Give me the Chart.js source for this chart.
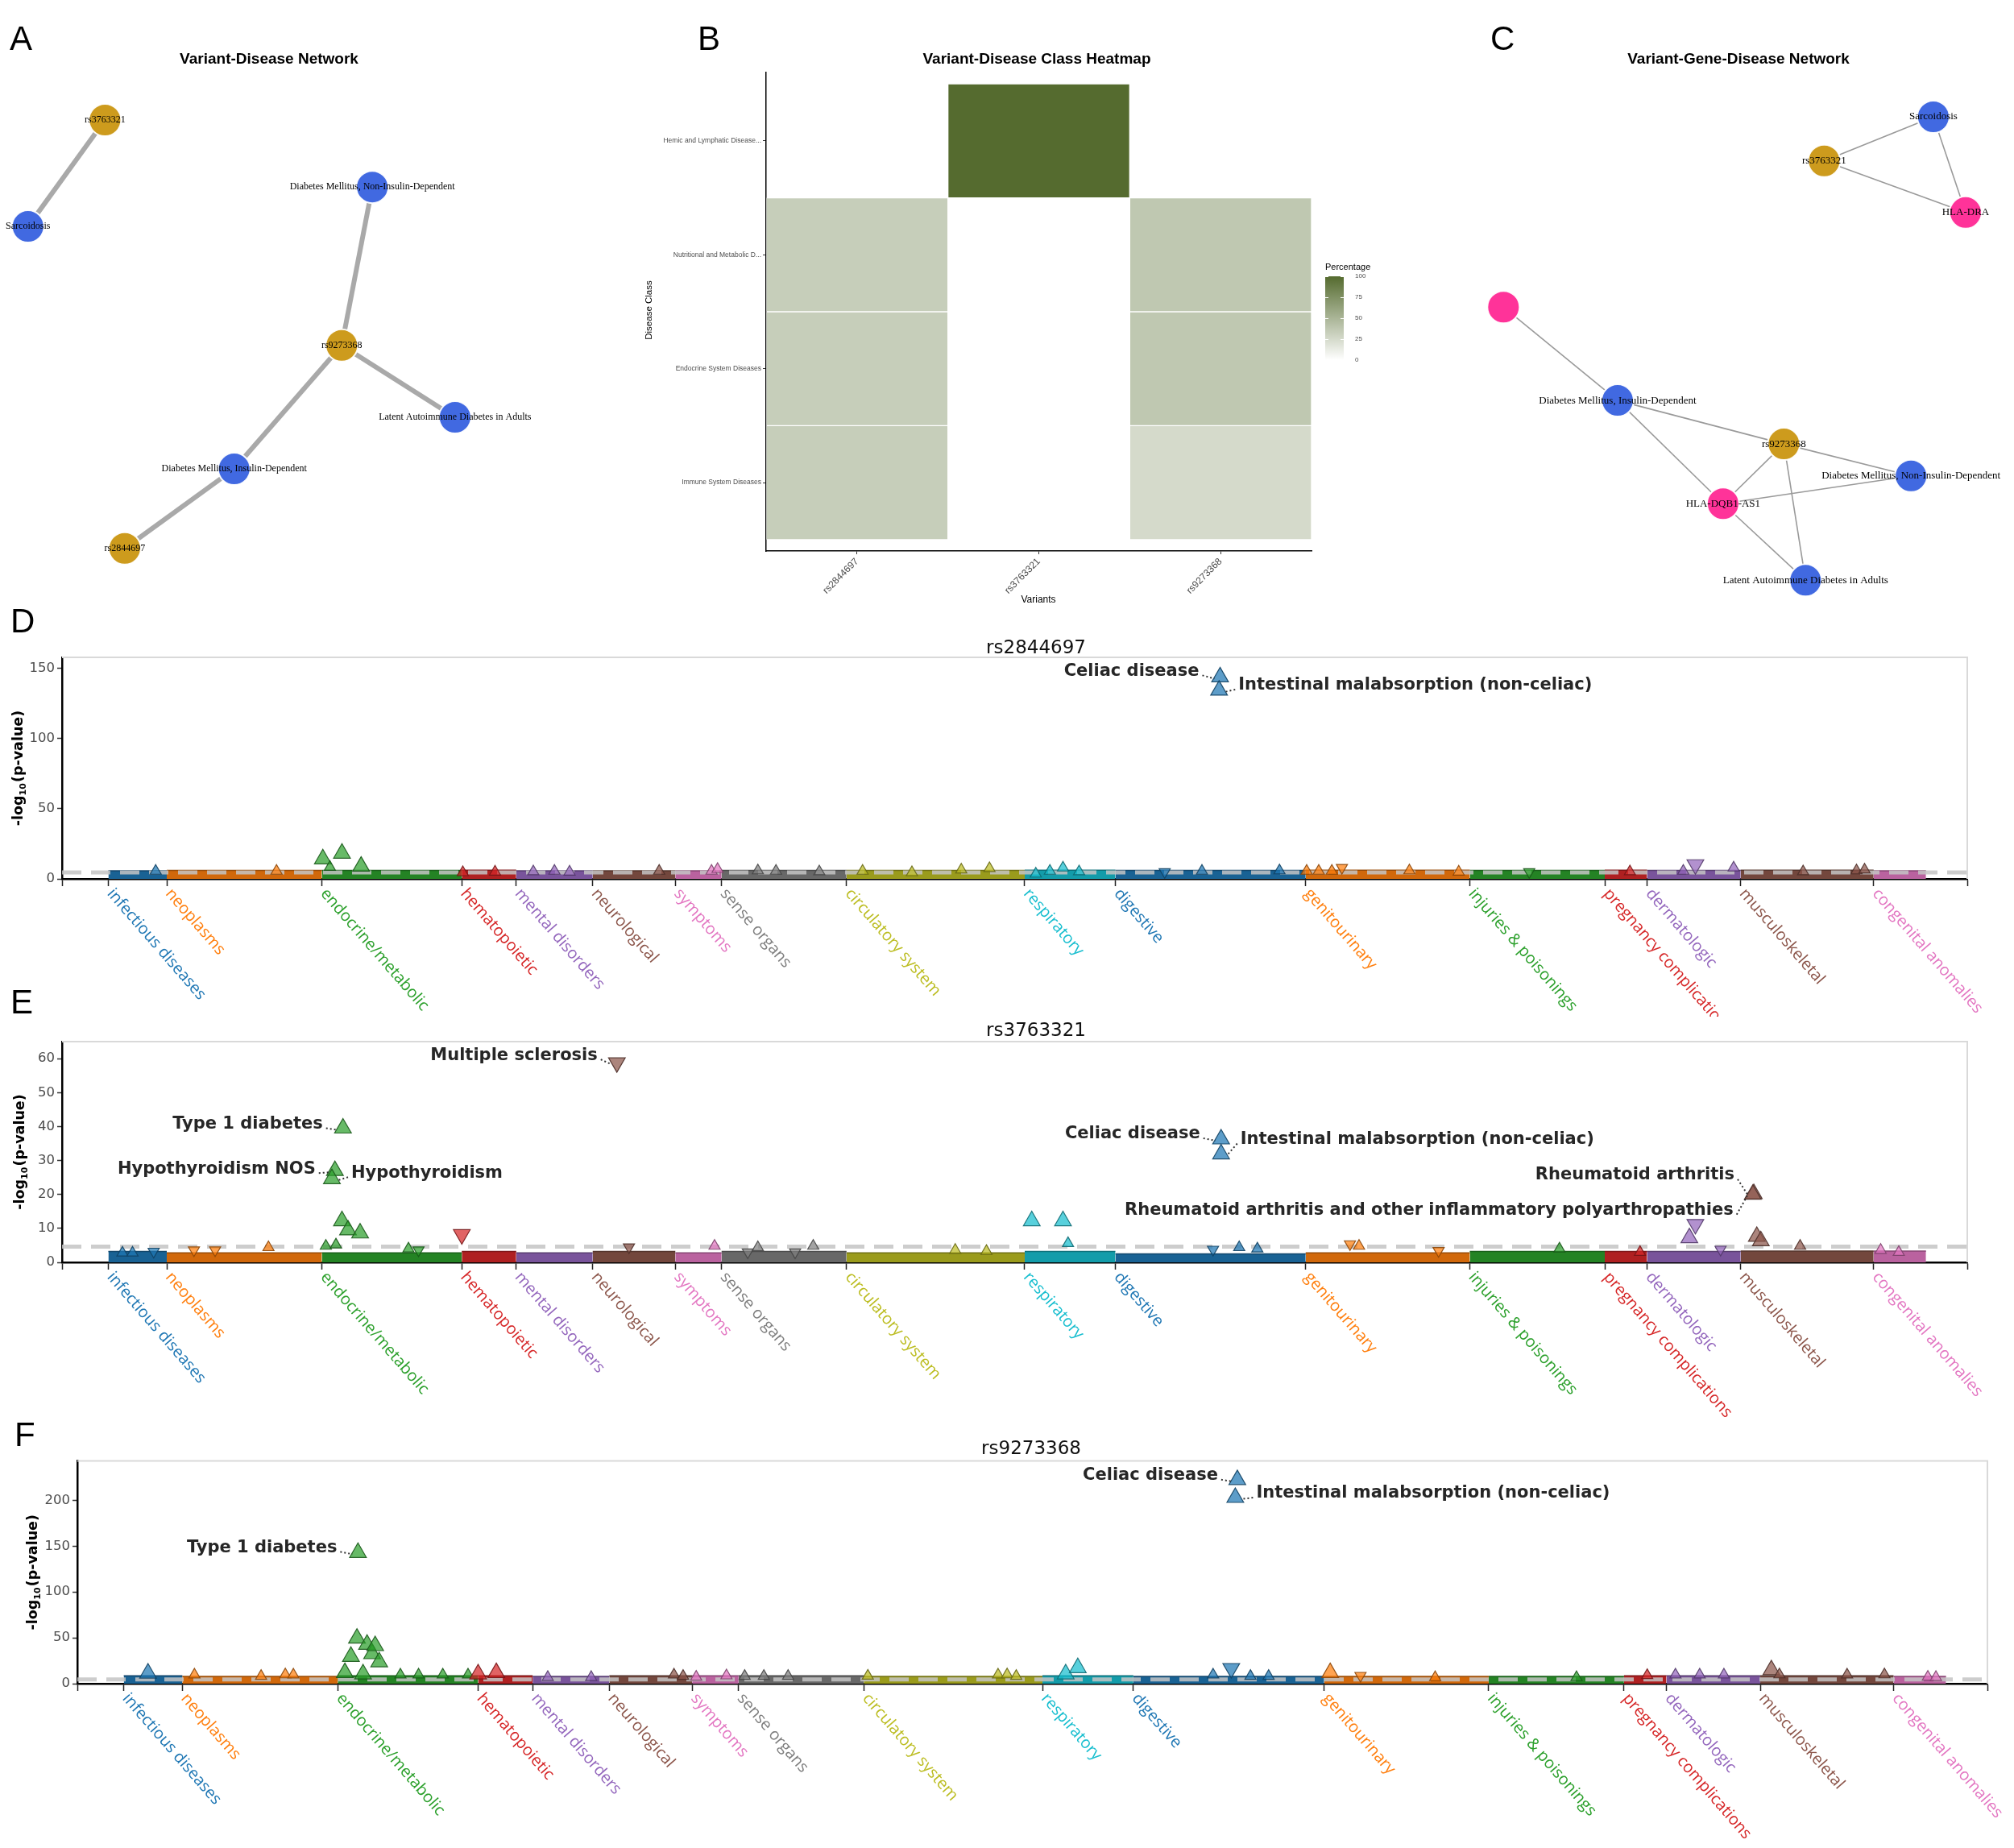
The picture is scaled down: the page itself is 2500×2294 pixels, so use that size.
<!DOCTYPE html>
<html>
<head>
<meta charset="utf-8">
<title>Variant-disease panels</title>
<script src="https://cdn.jsdelivr.net/npm/chart.js@4.4.1/dist/chart.umd.min.js"></script>
<style>
  html, body { margin: 0; background: #fff; }
  body { position: relative; width: 2500px; height: 2294px; overflow: hidden; }
  canvas { position: absolute; }
  .tag { position: absolute; font: 42px/42px "Liberation Sans", Arial, sans-serif; color: #000; z-index: 5; }
</style>
</head>
<body>
<canvas id="netA" width="790" height="720" style="left:0;top:50px"></canvas>
<canvas id="heat" width="850" height="720" style="left:790px;top:50px"></canvas>
<canvas id="legend" width="80" height="140" style="left:1640px;top:320px"></canvas>
<canvas id="netC" width="770" height="720" style="left:1730px;top:50px"></canvas>
<canvas id="manD" width="2500" height="482" style="left:0;top:780px"></canvas>
<canvas id="manE" width="2500" height="513" style="left:0;top:1262px"></canvas>
<canvas id="manF" width="2500" height="519" style="left:0;top:1775px"></canvas>
<div class="tag" style="left:12px;top:27px">A</div>
<div class="tag" style="left:866px;top:27px">B</div>
<div class="tag" style="left:1850px;top:27px">C</div>
<div class="tag" style="left:13px;top:750px">D</div>
<div class="tag" style="left:13px;top:1223px">E</div>
<div class="tag" style="left:18px;top:1760px">F</div>
<script>
// ---- panel A: variant-disease network (layout units 0-100) ----
const netANodes = ['rs3763321', 'Sarcoidosis', 'Diabetes Mellitus, Non-Insulin-Dependent', 'rs9273368',
  'Latent Autoimmune Diabetes in Adults', 'Diabetes Mellitus, Insulin-Dependent', 'rs2844697'];
const netATypes = ['variant', 'disease', 'disease', 'variant', 'disease', 'disease', 'variant'];
const netALayoutX = [16.5, 4.4, 58.5, 53.7, 71.5, 36.8, 19.6];
const netALayoutY = [13.75, 32.1, 25.3, 52.6, 65.0, 73.9, 87.6];
const netAEdges = [[0, 1], [2, 3], [3, 4], [3, 5], [5, 6]];

// ---- panel C: variant-gene-disease network ----
const netCNodes = ['Sarcoidosis', 'rs3763321', 'HLA-DRA', '', 'Diabetes Mellitus, Insulin-Dependent', 'rs9273368',
  'Diabetes Mellitus, Non-Insulin-Dependent', 'HLA-DQB1-AS1', 'Latent Autoimmune Diabetes in Adults'];
const netCTypes = ['disease', 'variant', 'gene', 'gene', 'disease', 'variant', 'disease', 'gene', 'disease'];
const netCLayoutX = [87.0, 69.4, 92.2, 17.7, 36.1, 62.9, 83.4, 53.1, 66.4];
const netCLayoutY = [13.2, 20.8, 29.7, 46.0, 62.1, 69.6, 75.1, 79.9, 93.1];
const netCEdges = [[1, 0], [1, 2], [0, 2], [3, 4], [4, 5], [4, 7], [5, 6], [5, 7], [5, 8], [7, 6], [7, 8]];

// ---- panel B: heatmap (percent of each variant's diseases per class) ----
const variants = ['rs2844697', 'rs3763321', 'rs9273368'];
const diseaseClasses = ['Immune System Diseases', 'Endocrine System Diseases',
  'Nutritional and Metabolic D...', 'Hemic and Lymphatic Disease...'];
const pctRs2844697 = [33.3, 33.3, 33.3, 0];
const pctRs3763321 = [0, 0, 0, 100];
const pctRs9273368 = [25, 37.5, 37.5, 0];
const legendTicks = [0, 25, 50, 75, 100];

// ---- panels D-F: PheWAS ----
const phenoGroups = ['infectious diseases', 'neoplasms', 'endocrine/metabolic', 'hematopoietic', 'mental disorders',
  'neurological', 'symptoms', 'sense organs', 'circulatory system', 'respiratory', 'digestive', 'genitourinary',
  'injuries & poisonings', 'pregnancy complications', 'dermatologic', 'musculoskeletal', 'congenital anomalies'];
const groupStart = [0, 58, 212, 351, 405, 481, 563, 609, 733, 910, 1000, 1189, 1352, 1486, 1528, 1621, 1753];
const groupEnd = 1805;
const xMin = -46, xMax = 1846;
const sigLine = 4.6;

// height of the dense cloud of non-significant phenotypes, per group
const bandD = [5.8, 6, 6, 6.2, 5.8, 5.8, 5.8, 6, 6, 6.2, 6, 6.2, 6, 6.2, 6, 6.2, 5.8];
const bandE = [3.2, 2.8, 2.8, 3.2, 2.8, 3.2, 2.8, 3.2, 2.8, 3.2, 2.5, 2.8, 3.2, 3.2, 3.2, 3.3, 3.3];
const bandF = [8.5, 7.9, 8.5, 8.5, 7.9, 8.5, 8.5, 8.5, 7.9, 8.5, 7.9, 7.9, 7.9, 8.5, 8.5, 8.5, 7.9];

// [phenotype position, -log10(p), direction]
const peaksD = [[47,5.6,1],[167,5.6,1],[213,14.2,1],[220,8.4,1],[232,18.2,1],[251,9,1],[352,4.6,1],[384,5,1],
  [422,5.2,1],[443,5.6,1],[458,5,1],[547,5.6,1],[599,5.6,1],[605,6.9,1],[645,5.9,1],[663,5.6,1],[706,5.2,1],
  [749,5.6,1],[798,4.6,1],[847,6.5,1],[875,7.5,1],[921,3.6,1],[935,5.6,1],[948,7.9,1],[964,5.2,1],[1049,5,-1],
  [1086,5.6,1],[1163,5.9,1],[1190,5.6,1],[1202,5.6,1],[1215,5.6,1],[1225,8,-1],[1292,5.9,1],[1341,5,1],
  [1411,5,-1],[1511,5.2,1],[1564,5.6,1],[1576,10.2,-1],[1614,7.9,1],[1683,5.2,1],[1736,5.9,1],[1744,6.5,1]];
const peaksE = [[14,2.8,1],[24,2.8,1],[45,3.2,-1],[85,3.6,-1],[106,3.6,-1],[159,4.4,1],[216,4.8,1],[226,5.2,1],
  [232,12.2,1],[238,9.5,1],[250,8.6,1],[298,4,1],[308,3.6,-1],[351,8.2,-1],[517,4.5,-1],[602,4.8,1],[635,3,-1],
  [645,4.4,1],[682,3,-1],[700,4.8,1],[841,3.6,1],[872,3.3,1],[917,12.2,1],[948,12.2,1],[953,5.6,1],[1097,3.8,-1],
  [1123,4.4,1],[1141,4,1],[1233,5.4,-1],[1242,4.8,1],[1321,3.4,-1],[1441,4,1],[1521,3,1],[1570,7.2,1],
  [1576,11.2,-1],[1601,3.8,-1],[1637,7.6,1],[1641,6.3,1],[1680,4.8,1],[1760,3.6,1],[1778,3,1]];
const peaksF = [[24,11.4,1],[70,9.7,1],[136,8.2,1],[160,9.9,1],[168,9.7,1],[219,12,1],[225,29.6,1],[231,49.5,1],
  [237,10.5,1],[241,42.8,1],[246,32.5,1],[249,41.3,1],[253,23.7,1],[274,9.7,1],[292,9.7,1],[316,9.7,1],[341,9.7,1],
  [351,10.5,1],[369,12,1],[420,7,1],[463,7,1],[545,9.7,1],[554,8.2,1],[567,7.4,1],[597,8.8,1],[615,8.2,1],
  [634,8.2,1],[658,8.2,1],[737,8.5,1],[866,9.7,1],[875,9.9,1],[884,8.2,1],[933,10.5,1],[945,17.3,1],[1079,9.7,1],
  [1097,16.7,-1],[1116,8.2,1],[1134,8.2,1],[1195,12,1],[1225,8.8,-1],[1299,6.8,1],[1439,6.8,1],[1509,9.1,1],
  [1537,9.7,1],[1561,9.7,1],[1585,9.7,1],[1632,15,1],[1640,9.9,1],[1707,9.7,1],[1744,9.9,1],[1787,7.3,1],[1795,7,1]];

// labelled phenotypes: [name, position, -log10(p), direction]
const annoD = [['Celiac disease', 1104, 144, 1], ['Intestinal malabsorption (non-celiac)', 1103, 134.5, 1]];
const annoE = [['Multiple sclerosis', 505, 58.8, -1], ['Type 1 diabetes', 233, 39.5, 1],
  ['Hypothyroidism NOS', 225, 27, 1], ['Hypothyroidism', 222, 24.6, 1],
  ['Celiac disease', 1105, 36.3, 1], ['Intestinal malabsorption (non-celiac)', 1105, 31.9, 1],
  ['Rheumatoid arthritis', 1634, 20.2, 1], ['Rheumatoid arthritis and other inflammatory polyarthropathies', 1633, 20, 1]];
const annoF = [['Celiac disease', 1103, 222.5, 1], ['Intestinal malabsorption (non-celiac)', 1101, 203, 1],
  ['Type 1 diabetes', 232, 143, 1]];

// ---------- helpers ----------
Chart.defaults.font.family = '"Liberation Sans", Arial, sans-serif';
Chart.defaults.layout.autoPadding = false;

const palette = ['#1f77b4', '#ff7f0e', '#2ca02c', '#d62728', '#9467bd', '#8c564b', '#e377c2', '#7f7f7f', '#bcbd22', '#17becf'];
const nodeColors = { variant: '#CD9B1D', disease: '#4169E1', gene: '#FF3399' };

function groupColor(g) { return palette[g % palette.length]; }
function groupOf(x) {
  let g = 0;
  groupStart.forEach((s, i) => { if (x >= s) g = i; });
  return g;
}
function rgba(hex, a) {
  const n = parseInt(hex.slice(1), 16);
  return `rgba(${n >> 16},${(n >> 8) & 255},${n & 255},${a})`;
}
function shade(hex, f, a = 1) {
  const n = parseInt(hex.slice(1), 16);
  return `rgba(${Math.round((n >> 16) * f)},${Math.round(((n >> 8) & 255) * f)},${Math.round((n & 255) * f)},${a})`;
}
function heatColor(p) {
  const t = p / 100;
  const lo = [255, 255, 255], hi = [85, 107, 47];
  const c = lo.map((v, i) => Math.round(v + (hi[i] - v) * t));
  return `rgb(${c[0]},${c[1]},${c[2]})`;
}
function textPlugin(id, items) {
  return {
    id,
    afterDraw(chart) {
      const ctx = chart.ctx;
      items.forEach(t => {
        ctx.save();
        ctx.font = t.font;
        ctx.fillStyle = t.color || '#000';
        ctx.textAlign = t.align || 'center';
        ctx.textBaseline = 'middle';
        ctx.translate(t.x, t.y);
        if (t.rot) ctx.rotate(t.rot);
        ctx.fillText(t.text, 0, 0);
        ctx.restore();
      });
    }
  };
}
const baseOptions = {
  responsive: false, animation: false, devicePixelRatio: 1, events: [],
  plugins: { legend: { display: false }, tooltip: { enabled: false }, title: { display: false } }
};

// ---------- networks ----------
function network(id, names, types, lx, ly, edges, edgeWidth, edgeColor, labelFont, title, titleX) {
  const datasets = [{
    type: 'scatter', order: 0, clip: false,
    data: lx.map((x, i) => ({ x, y: ly[i] })),
    pointRadius: 20,
    pointBackgroundColor: types.map(t => nodeColors[t]),
    pointBorderColor: 'rgba(255,255,255,0.95)', pointBorderWidth: 2
  }];
  edges.forEach(([a, b]) => datasets.push({
    type: 'line', order: 1, clip: false,
    data: [{ x: lx[a], y: ly[a] }, { x: lx[b], y: ly[b] }],
    borderColor: edgeColor, borderWidth: edgeWidth, pointRadius: 0
  }));
  const labels = {
    id: 'nodeLabels' + id,
    afterDatasetsDraw(chart) {
      const ctx = chart.ctx;
      ctx.save();
      ctx.font = labelFont;
      ctx.fillStyle = '#000';
      ctx.textAlign = 'center';
      ctx.textBaseline = 'middle';
      chart.getDatasetMeta(0).data.forEach((pt, i) => { if (names[i]) ctx.fillText(names[i], pt.x, pt.y); });
      ctx.restore();
    }
  };
  new Chart(document.getElementById(id), {
    type: 'scatter',
    data: { datasets },
    options: Object.assign({}, baseOptions, {
      layout: { padding: 0 },
      scales: {
        x: { display: false, min: 0, max: 100 },
        y: { display: false, min: 0, max: 100, reverse: true }
      }
    }),
    plugins: [labels, textPlugin('title' + id, [{ text: title, x: titleX, y: 24, font: 'bold 19px "Liberation Sans"' }])]
  });
}

network('netA', netANodes, netATypes, netALayoutX, netALayoutY, netAEdges, 6, '#a9a9a9',
  '12px "Liberation Serif"', 'Variant-Disease Network', 334);
network('netC', netCNodes, netCTypes, netCLayoutX, netCLayoutY, netCEdges, 1.6, '#9a9a9a',
  '13px "Liberation Serif"', 'Variant-Gene-Disease Network', 428);

// ---------- heatmap ----------
const pctByVariant = [pctRs2844697, pctRs3763321, pctRs9273368];
const heatDatasets = diseaseClasses.map((cls, r) => ({
  label: cls,
  data: variants.map(() => [r, r + 1]),
  backgroundColor: variants.map((v, c) => pctByVariant[c][r] > 0 ? heatColor(pctByVariant[c][r]) : 'rgba(0,0,0,0)'),
  borderColor: 'rgba(255,255,255,0.35)',
  borderWidth: variants.map((v, c) => pctByVariant[c][r] > 0 ? 1 : 0),
  borderSkipped: false,
  barPercentage: 1, categoryPercentage: 1, grouped: false
}));
new Chart(document.getElementById('heat'), {
  type: 'bar',
  data: { labels: variants, datasets: heatDatasets },
  options: Object.assign({}, baseOptions, {
    layout: { padding: { top: 40, right: 12, left: 0, bottom: 0 } },
    scales: {
      x: {
        afterFit: s => { s.height = 86; },
        grid: { display: true, offset: false, drawOnChartArea: false, tickLength: 4, tickColor: '#333', tickWidth: 1 },
        border: { color: '#000', width: 1.5 },
        ticks: { minRotation: 45, maxRotation: 45, padding: 2, color: '#4d4d4d', font: { size: 12 } }
      },
      y: {
        type: 'linear', min: -0.1, max: 4.1,
        afterFit: s => { s.width = 161; },
        afterBuildTicks: s => { s.ticks = diseaseClasses.map((c, i) => ({ value: i + 0.5 })); },
        grid: { display: true, drawOnChartArea: false, tickLength: 4, tickColor: '#333', tickWidth: 1 },
        border: { color: '#000', width: 1.5 },
        ticks: { padding: 2, color: '#4d4d4d', font: { size: 8.5 }, callback: v => diseaseClasses[Math.round(v - 0.5)] }
      }
    }
  }),
  plugins: [textPlugin('heatText', [
    { text: 'Variant-Disease Class Heatmap', x: 497, y: 24, font: 'bold 19px "Liberation Sans"' },
    { text: 'Variants', x: 499, y: 695, font: '12px "Liberation Sans"' },
    { text: 'Disease Class', x: 16, y: 335, font: '11.5px "Liberation Sans"', rot: -Math.PI / 2 }
  ])]
});

// colour bar legend
new Chart(document.getElementById('legend'), {
  type: 'bar',
  data: {
    labels: [''],
    datasets: [{
      data: [[legendTicks[0], legendTicks[legendTicks.length - 1]]],
      barPercentage: 1, categoryPercentage: 1, borderWidth: 0,
      backgroundColor: c => {
        const a = c.chart.chartArea;
        if (!a) return '#ccc';
        const g = c.chart.ctx.createLinearGradient(0, a.bottom, 0, a.top);
        g.addColorStop(0, heatColor(0));
        g.addColorStop(1, heatColor(100));
        return g;
      }
    }]
  },
  options: Object.assign({}, baseOptions, {
    layout: { padding: { top: 23, left: 5, bottom: 13, right: 0 } },
    scales: {
      x: { display: false },
      y: {
        position: 'right', min: 0, max: 100,
        afterFit: s => { s.width = 52; },
        afterBuildTicks: s => { s.ticks = legendTicks.map(v => ({ value: v })); },
        grid: { display: false }, border: { display: false },
        ticks: { padding: 6, color: '#4d4d4d', font: { size: 8 } }
      }
    }
  }),
  plugins: [{
    id: 'barTicks',
    afterDatasetsDraw(chart) {
      const { ctx, chartArea: a, scales: { y } } = chart;
      ctx.save();
      ctx.strokeStyle = '#fff';
      ctx.lineWidth = 1;
      legendTicks.forEach(v => {
        const py = Math.round(y.getPixelForValue(v)) + 0.5;
        ctx.beginPath();
        ctx.moveTo(a.left, py); ctx.lineTo(a.left + 4, py);
        ctx.moveTo(a.right - 4, py); ctx.lineTo(a.right, py);
        ctx.stroke();
      });
      ctx.restore();
    }
  }, textPlugin('legendText', [{ text: 'Percentage', x: 5, y: 12, font: '11px "Liberation Sans"', align: 'left' }])]
});

// ---------- PheWAS manhattan panels ----------
function triangles(rows, bigAt, order) {
  return {
    type: 'scatter', order,
    data: rows.map(r => ({ x: r[r.length - 3], y: r[r.length - 2] })),
    pointStyle: 'triangle',
    pointRadius: rows.map(r => r[r.length - 2] >= bigAt ? 12 : 8),
    pointRotation: rows.map(r => r[r.length - 1] < 0 ? 180 : 0),
    pointBackgroundColor: rows.map(r => rgba(groupColor(groupOf(r[r.length - 3])), 0.72)),
    pointBorderColor: rows.map(r => shade(groupColor(groupOf(r[r.length - 3])), 0.55, 0.9)),
    pointBorderWidth: 1.2
  };
}

function manhattan(id, p) {
  const datasets = [triangles(p.anno, 0, 0), triangles(p.peaks, p.bigAt, 1)];
  datasets.push({
    type: 'line', order: 2,
    data: [{ x: xMin, y: sigLine }, { x: xMax, y: sigLine }],
    borderColor: 'rgba(196,196,196,0.85)', borderWidth: 5, borderDash: [24, 12], pointRadius: 0, fill: false
  });
  groupStart.forEach((s, g) => {
    const e = g + 1 < groupStart.length ? groupStart[g + 1] : groupEnd;
    const col = groupColor(g);
    datasets.push({
      type: 'line', order: 3,
      data: [{ x: s, y: p.band[g] }, { x: e, y: p.band[g] }],
      fill: 'origin', backgroundColor: shade(col, 0.82), borderColor: shade(col, 0.6),
      borderWidth: 1.5, pointRadius: 0, tension: 0
    });
  });

  const decor = {
    id: 'decor' + id,
    beforeDatasetsDraw(chart) {
      const { ctx, chartArea: a } = chart;
      ctx.save();
      ctx.strokeStyle = '#d9d9d9';
      ctx.lineWidth = 2;
      ctx.beginPath();
      ctx.moveTo(a.left, a.top); ctx.lineTo(a.right, a.top); ctx.lineTo(a.right, a.bottom);
      ctx.stroke();
      ctx.restore();
    },
    afterDraw(chart) {
      const { ctx, chartArea: a, scales: { x, y } } = chart;
      // group labels hanging from the group ticks
      ctx.save();
      ctx.font = '20px "Open Sans"';
      ctx.textAlign = 'left';
      ctx.textBaseline = 'middle';
      phenoGroups.forEach((name, g) => {
        ctx.save();
        ctx.translate(x.getPixelForValue(groupStart[g]) + 2, a.bottom + 15);
        ctx.rotate(49 * Math.PI / 180);
        ctx.fillStyle = groupColor(g);
        ctx.fillText(name, 0, 0);
        ctx.restore();
      });
      ctx.restore();

      // labelled phenotypes
      ctx.save();
      ctx.font = 'bold 21px "DejaVu Sans"';
      ctx.textBaseline = 'middle';
      p.anno.forEach((an, i) => {
        const px = x.getPixelForValue(an[1]), py = y.getPixelForValue(an[2]);
        const [dx, dy] = p.nudge[i];
        ctx.fillStyle = '#262626';
        ctx.textAlign = dx < 0 ? 'right' : 'left';
        ctx.fillText(an[0], px + dx, py + dy);
        ctx.save();
        ctx.setLineDash([2, 3]);
        ctx.lineWidth = 2;
        ctx.strokeStyle = '#333';
        ctx.beginPath();
        ctx.moveTo(px + dx + (dx < 0 ? 4 : -4), py + dy + 5);
        ctx.lineTo(px + (dx < 0 ? -7 : 7), py + 2);
        ctx.stroke();
        ctx.restore();
      });
      ctx.restore();

      // panel title
      ctx.save();
      ctx.font = '23px "DejaVu Sans"';
      ctx.fillStyle = '#111';
      ctx.textAlign = 'center';
      ctx.textBaseline = 'middle';
      ctx.fillText(p.title, p.titleX, p.titleY);
      ctx.restore();

      // y axis title -log10(p-value)
      ctx.save();
      ctx.translate(p.yTitleX, (a.top + a.bottom) / 2);
      ctx.rotate(-Math.PI / 2);
      const big = 'bold 17.5px "DejaVu Sans"', small = 'bold 11px "DejaVu Sans"';
      ctx.font = big;
      const w1 = ctx.measureText('-log').width, w3 = ctx.measureText('(p-value)').width;
      ctx.font = small;
      const w2 = ctx.measureText('10').width + 1;
      let cx = -(w1 + w2 + w3) / 2;
      ctx.fillStyle = '#000';
      ctx.textAlign = 'left';
      ctx.textBaseline = 'alphabetic';
      ctx.font = big; ctx.fillText('-log', cx, 6); cx += w1;
      ctx.font = small; ctx.fillText('10', cx, 10); cx += w2;
      ctx.font = big; ctx.fillText('(p-value)', cx, 6);
      ctx.restore();
    }
  };

  new Chart(document.getElementById(id), {
    type: 'scatter',
    data: { datasets },
    options: Object.assign({}, baseOptions, {
      layout: { padding: { top: p.padTop, right: p.padRight, left: 0, bottom: 0 } },
      scales: {
        x: {
          type: 'linear', min: xMin, max: xMax,
          afterFit: s => { s.height = p.xAxisH; },
          afterBuildTicks: s => { s.ticks = [xMin, ...groupStart, xMax].map(v => ({ value: v })); },
          grid: { display: true, drawOnChartArea: false, drawTicks: true, tickLength: 9, tickColor: '#222', tickWidth: 1.5 },
          border: { display: true, color: '#000', width: 2.5 },
          ticks: { display: false, autoSkip: false }
        },
        y: {
          type: 'linear', min: 0, max: p.yMax,
          afterFit: s => { s.width = p.yAxisW; },
          grid: { display: true, drawOnChartArea: false, tickLength: 6, tickColor: '#333', tickWidth: 1.5 },
          border: { display: true, color: '#000', width: 2.5 },
          ticks: { stepSize: p.yStep, includeBounds: false, padding: 3, color: '#4d4d4d',
            font: { family: '"DejaVu Sans"', size: 16.5 } }
        }
      }
    }),
    plugins: [decor]
  });
}

manhattan('manD', {
  title: 'rs2844697', band: bandD, peaks: peaksD, anno: annoD, bigAt: 9,
  nudge: [[-26, -7], [24, -6]],
  padTop: 36, padRight: 58, yAxisW: 77, xAxisH: 171, yMax: 158, yStep: 50,
  titleX: 1286, titleY: 25, yTitleX: 22
});
manhattan('manE', {
  title: 'rs3763321', band: bandE, peaks: peaksE, anno: annoE, bigAt: 6,
  nudge: [[-24, -9], [-25, -5], [-24, -2], [24, -7], [-26, -6], [24, -18], [-24, -23], [-24, 20]],
  padTop: 31, padRight: 58, yAxisW: 77, xAxisH: 208, yMax: 65, yStep: 10,
  titleX: 1286, titleY: 18, yTitleX: 24
});
manhattan('manF', {
  title: 'rs9273368', band: bandF, peaks: peaksF, anno: annoF, bigAt: 10,
  nudge: [[-24, -5], [26, -5], [-26, -6]],
  padTop: 38.5, padRight: 33, yAxisW: 96, xAxisH: 204, yMax: 243, yStep: 50,
  titleX: 1280, titleY: 24, yTitleX: 40
});
</script>
</body>
</html>
